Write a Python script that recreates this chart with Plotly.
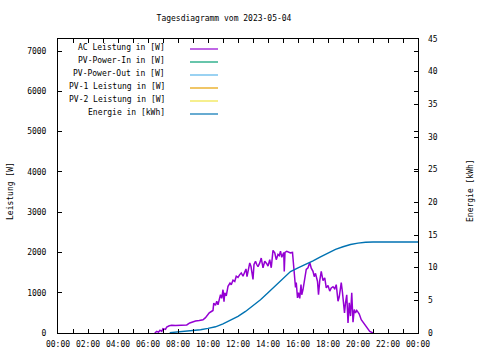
import plotly.graph_objects as go

DAY = "2023-05-04"
title_text = "Tagesdiagramm vom 2023-05-04"

# AC Leistung [W]
ac_times = ["06:27", "06:35", "06:42", "06:48", "06:55", "07:00", "07:10", "07:15", "07:25", "07:35",
            "07:50", "08:05", "08:20", "08:35", "08:47", "09:00", "09:10", "09:25", "09:40", "09:50",
            "09:55", "10:05", "10:15", "10:20", "10:23", "10:30", "10:35", "10:40", "10:45", "10:50",
            "10:55", "11:00", "11:04", "11:07", "11:13", "11:20", "11:28", "11:33", "11:40", "11:47",
            "11:53", "12:00", "12:07", "12:13", "12:20", "12:27", "12:32", "12:36", "12:40", "12:47",
            "12:52", "12:56", "13:00", "13:04", "13:10", "13:15", "13:20", "13:27", "13:33", "13:40",
            "13:47", "13:55", "14:00", "14:07", "14:13", "14:20", "14:27", "14:33", "14:40", "14:45",
            "14:50", "14:55", "15:03", "15:05", "15:08", "15:15", "15:22", "15:30", "15:38", "15:42",
            "15:47", "15:50", "15:53", "15:58", "16:02", "16:07", "16:12", "16:15", "16:20", "16:25",
            "16:28", "16:33", "16:40", "16:47", "16:53", "17:00", "17:05", "17:10", "17:18", "17:22",
            "17:27", "17:33", "17:40", "17:47", "17:53", "18:00", "18:07", "18:13", "18:20", "18:27",
            "18:33", "18:40", "18:45", "18:53", "18:58", "19:02", "19:06", "19:10", "19:15", "19:20",
            "19:25", "19:30", "19:35", "19:40", "19:45", "19:50", "19:55", "20:00", "20:05", "20:13",
            "20:27", "20:40", "20:47", "21:00"]
ac_values = [0, 40, 20, 70, 40, 110, 90, 150, 180, 190,
             185, 195, 190, 200, 250, 280, 300, 310, 330, 380,
             420, 500, 540, 560, 740, 690, 790, 700, 830, 950,
             860, 1075, 780, 1000, 920, 1160, 1240, 1200, 1310, 1280,
             1410, 1380, 1450, 1490, 1410, 1520, 1590, 1400, 1560, 1740,
             1650, 1500, 1330, 1700, 1780, 1700, 1650, 1740, 1860, 1620,
             1780, 1720, 1660, 1820, 1620, 2050, 1990, 1820, 1950, 1920,
             2030, 1880, 2000, 1530, 2000, 2030, 2010, 1990, 2000, 1700,
             1490, 1130, 1250, 870, 1000, 860, 1200, 950, 1080, 1300,
             1460, 1580, 1620, 1750, 1610, 1530, 1400, 1480, 1280, 950,
             1300, 1530, 1300, 1370, 1120, 1180, 1040, 1120, 1150, 1100,
             1200, 790, 900, 1250, 1000, 700, 500, 745, 950, 250,
             750, 420, 1000, 270, 580, 500, 560, 520, 470, 330,
             205, 80, 40, 0]

# Energie [kWh]
en_times = ["07:27", "08:00", "08:30", "09:00", "09:30", "10:00", "10:30", "11:00", "11:30", "12:00",
            "12:30", "13:00", "13:30", "14:00", "14:30", "15:00", "15:30", "16:00", "16:30", "17:00",
            "17:30", "18:00", "18:30", "19:00", "19:30", "20:00", "20:30", "21:00", "24:00"]
en_values = [0.05, 0.15, 0.25, 0.35, 0.5, 0.7, 0.95, 1.4, 1.95, 2.55,
             3.3, 4.2, 5.1, 6.15, 7.2, 8.35, 9.4, 9.95, 10.45, 11.05,
             11.65, 12.25, 12.8, 13.2, 13.55, 13.75, 13.9, 13.93, 13.93]

# Series without visible data
pv_in_times, pv_in_values = [], []
pv_out_times, pv_out_values = [], []
pv1_times, pv1_values = [], []
pv2_times, pv2_values = [], []

series_names = ["AC Leistung in [W]", "PV-Power-In in [W]", "PV-Power-Out in [W]",
                "PV-1 Leistung in [W]", "PV-2 Leistung in [W]", "Energie in [kWh]"]
series_colors = ["#9400d3", "#009e73", "#56b4e9", "#e69f00", "#f0e442", "#0072b2"]

y1_range = [0, 7300]
y2_range = [0, 45]


def ts(t):
    if t == "24:00":
        return "2023-05-05 00:00"
    return f"{DAY} {t}"


FONT = "DejaVu Sans Mono"
fig = go.Figure()
data_sets = [(ac_times, ac_values, "y", 1.5), (pv_in_times, pv_in_values, "y", 1.2),
             (pv_out_times, pv_out_values, "y", 1.2), (pv1_times, pv1_values, "y", 1.2),
             (pv2_times, pv2_values, "y", 1.2), (en_times, en_values, "y2", 1.4)]
for (tt, vv, ax, lw), name, col in zip(data_sets, series_names, series_colors):
    fig.add_trace(go.Scatter(x=[ts(t) for t in tt], y=vv, mode="lines", name=name,
                             yaxis=ax, line=dict(color=col, width=lw),
                             showlegend=False))

# margins -> plot area 58..418 x 39..333
L, R, T, B = 58, 62, 39, 27
W, H = 480, 360
pw, ph = W - L - R, H - T - B


def px_x(x):
    return (x - L) / pw


def px_y(y):
    return (H - B - y) / ph


# manual legend (gnuplot style: text first, line sample after)
ann = []
shapes = []
rows_y = [47.5, 60.5, 73.5, 86.5, 99.5, 112.5]
for name, col, yy in zip(series_names, series_colors, rows_y):
    ann.append(dict(x=px_x(167), y=px_y(yy), xref="paper", yref="paper", text=name,
                    showarrow=False, xanchor="right", yanchor="middle",
                    font=dict(family=FONT, size=8, color="black")))
    shapes.append(dict(type="line", xref="paper", yref="paper", x0=px_x(190), x1=px_x(218),
                       y0=px_y(yy + 1.5), y1=px_y(yy + 1.5), line=dict(color=col, width=1.2)))

ann.append(dict(x=px_x(10), y=px_y(191), xref="paper", yref="paper", text="Leistung [W]",
                showarrow=False, textangle=-90, xanchor="center", yanchor="middle",
                font=dict(family=FONT, size=8, color="black")))
ann.append(dict(x=px_x(470), y=px_y(191), xref="paper", yref="paper", text="Energie [kWh]",
                showarrow=False, textangle=-90, xanchor="center", yanchor="middle",
                font=dict(family=FONT, size=8, color="black")))

fig.update_layout(
    width=W, height=H,
    margin=dict(l=L, r=R, t=T, b=B, pad=0, autoexpand=False),
    paper_bgcolor="white", plot_bgcolor="white",
    font=dict(family=FONT, size=8, color="black"),
    title=dict(text=title_text, x=224 / W, xref="container", xanchor="center",
               y=1 - 18 / H, yref="container", yanchor="middle",
               font=dict(family=FONT, size=8, color="black")),
    showlegend=False,
    hovermode=False,
    annotations=ann, shapes=shapes,
    xaxis=dict(type="date", range=[ts("00:00"), ts("24:00")], tickformat="%H:%M",
               dtick=7200000, tick0=ts("00:00"), ticks="inside", ticklen=4, tickcolor="black",
               showline=True, linecolor="black", linewidth=1, mirror="allticks",
               showgrid=False, zeroline=False, ticklabelstandoff=3, automargin=False,
               minor=dict(ticks="inside", dtick=3600000, ticklen=2, tickcolor="black", showgrid=False),
               tickfont=dict(family=FONT, size=8, color="black")),
    yaxis=dict(range=y1_range, dtick=1000, tick0=0, ticks="inside", ticklen=4, tickcolor="black",
               showline=True, linecolor="black", linewidth=1, mirror="allticks",
               showgrid=False, zeroline=False, ticklabelstandoff=9, automargin=False,
               tickfont=dict(family=FONT, size=8, color="black")),
    yaxis2=dict(range=y2_range, dtick=5, tick0=0, overlaying="y", side="right",
                ticks="inside", ticklen=4, tickcolor="black", showline=False,
                showgrid=False, zeroline=False, ticklabelstandoff=9, automargin=False,
                tickfont=dict(family=FONT, size=8, color="black")),
)

fig.write_html("out.html", config={"displayModeBar": False, "staticPlot": True},
               post_script="document.body.style.margin='0px';")
